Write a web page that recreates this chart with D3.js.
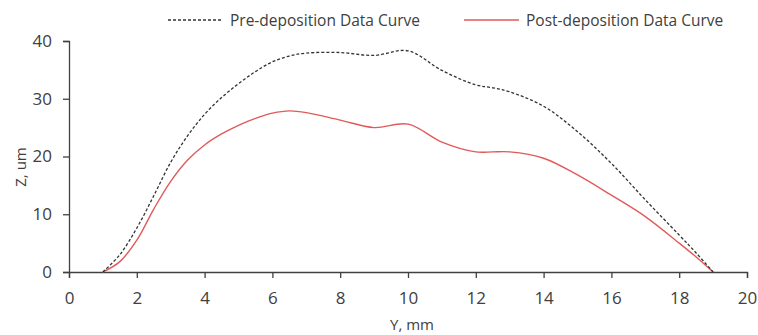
<!DOCTYPE html>
<html>
<head>
<meta charset="utf-8">
<script src="https://cdn.jsdelivr.net/npm/d3@7"></script>
<style>
  body { margin: 0; background: #fff; }
  text { font-family: "Open Sans", sans-serif; fill: #404040; }
</style>
</head>
<body>
<div id="chart"></div>
<script>
// positions along the track (Y, mm)
var yPos = [1, 1.5, 2, 2.5, 3, 3.5, 4, 4.5, 5, 5.5, 6, 6.5, 7, 8, 9, 10, 11, 12, 12.5, 13, 14, 15, 16, 17, 18, 18.5, 19];
// profile heights (Z, um)
var preDep = [0, 3.0, 7.6, 13.2, 19.0, 23.6, 27.3, 30.2, 32.6, 34.7, 36.4, 37.4, 37.9, 38.0, 37.5, 38.3, 34.9, 32.4, 31.9, 31.2, 28.7, 24.3, 18.8, 12.5, 6.4, 3.3, 0];
var postDep = [0, 1.8, 5.5, 10.9, 15.7, 19.4, 22.0, 23.9, 25.4, 26.6, 27.5, 27.9, 27.6, 26.3, 25.0, 25.6, 22.5, 20.8, 20.8, 20.8, 19.7, 16.8, 13.3, 9.6, 5.0, 2.6, 0];
var xTicks = [0, 2, 4, 6, 8, 10, 12, 14, 16, 18, 20];
var yTicks = [0, 10, 20, 30, 40];
var seriesNames = ["Pre-deposition Data Curve", "Post-deposition Data Curve"];

var W = 758, H = 335;
var margin = { top: 41, right: 11, bottom: 63, left: 69 },
  width = W - margin.left - margin.right,
  height = H - margin.top - margin.bottom;

var svg = d3
  .select("#chart")
  .append("svg")
  .attr("width", W)
  .attr("height", H);

var g = svg
  .append("g")
  .attr("transform", "translate(" + margin.left + "," + margin.top + ")");

var x = d3.scaleLinear().domain([0, 20]).range([0, width]);
var y = d3.scaleLinear().domain([0, 40]).range([height, 0]);

// x axis
var xAxis = g
  .append("g")
  .attr("transform", "translate(0," + height + ")")
  .call(d3.axisBottom(x).tickValues(xTicks).tickSize(6).tickPadding(14));
xAxis.selectAll("text").style("font-size", "17px");

// y axis
var yAxis = g
  .append("g")
  .call(d3.axisLeft(y).tickValues(yTicks).tickSize(6).tickPadding(11));
yAxis.selectAll("text").style("font-size", "17px");

g.selectAll(".domain, .tick line").attr("stroke", "#404040").attr("stroke-width", 1.3);

// axis titles
svg
  .append("text")
  .attr("x", 412)
  .attr("y", 330)
  .attr("text-anchor", "middle")
  .style("font-size", "15px")
  .text("Y, mm");

svg
  .append("text")
  .attr("transform", "translate(26,167) rotate(-90)")
  .attr("text-anchor", "middle")
  .style("font-size", "15px")
  .text("Z, um");

var line = d3
  .line()
  .x(function (d) { return x(d[0]); })
  .y(function (d) { return y(d[1]); })
  .curve(d3.curveCatmullRom.alpha(0.5));

g.append("path")
  .datum(d3.zip(yPos, postDep))
  .attr("fill", "none")
  .attr("stroke", "#e05a5a")
  .attr("stroke-width", 1.4)
  .attr("d", line);

g.append("path")
  .datum(d3.zip(yPos, preDep))
  .attr("fill", "none")
  .attr("stroke", "#333")
  .attr("stroke-width", 1.3)
  .attr("stroke-dasharray", "3,2")
  .attr("d", line);

// legend
var legend = [
  { name: seriesNames[0], x1: 168, color: "#333", dash: "3,2" },
  { name: seriesNames[1], x1: 464, color: "#e05a5a", dash: null }
];
legend.forEach(function (l) {
  svg
    .append("line")
    .attr("x1", l.x1)
    .attr("x2", l.x1 + 55)
    .attr("y1", 20)
    .attr("y2", 20)
    .attr("stroke", l.color)
    .attr("stroke-width", 1.4)
    .attr("stroke-dasharray", l.dash);
  svg
    .append("text")
    .attr("x", l.x1 + 62)
    .attr("y", 26)
    .style("font-size", "15.5px")
    .text(l.name);
});
</script>
</body>
</html>
